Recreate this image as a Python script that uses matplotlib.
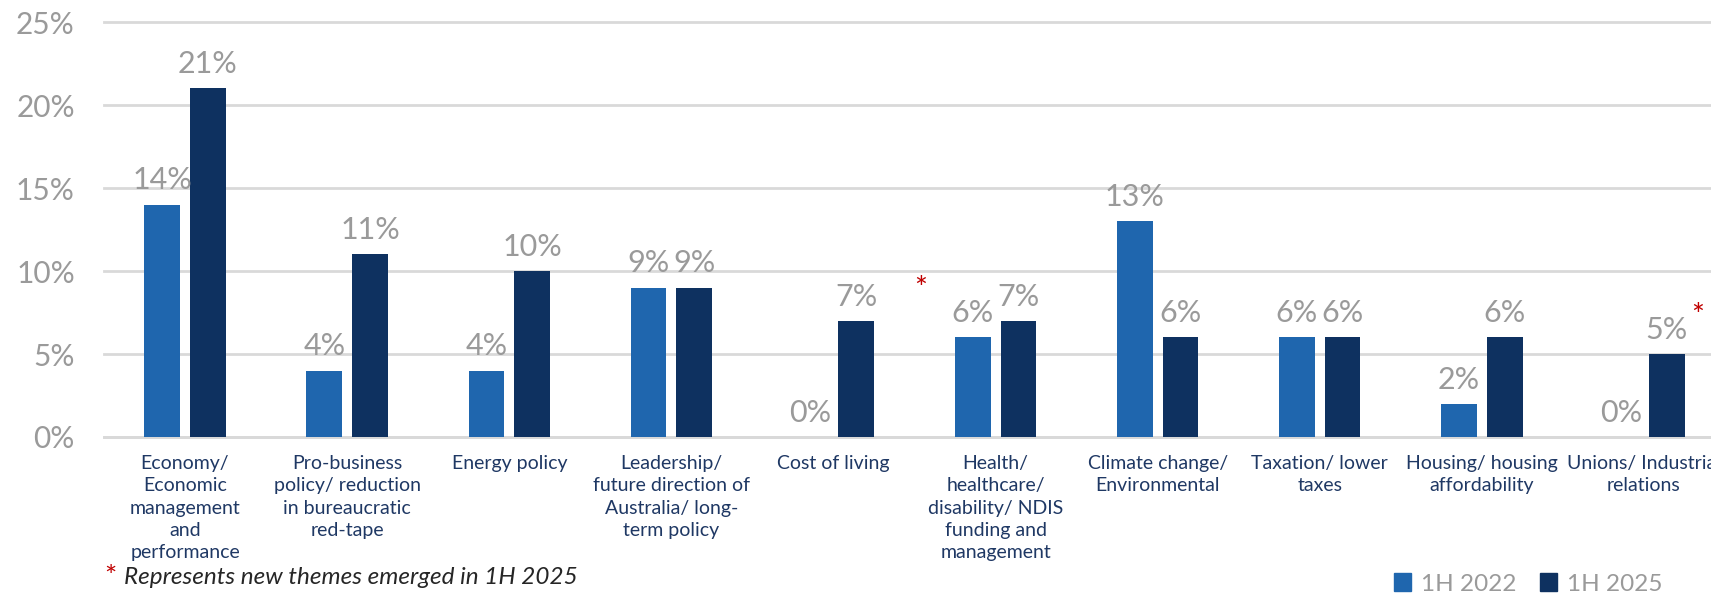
import matplotlib
matplotlib.use("Agg")
import matplotlib.pyplot as plt
from matplotlib.patches import Patch
import numpy as np

categories = [
    "Economy/\nEconomic\nmanagement\nand\nperformance",
    "Pro-business\npolicy/ reduction\nin bureaucratic\nred-tape",
    "Energy policy",
    "Leadership/\nfuture direction of\nAustralia/ long-\nterm policy",
    "Cost of living",
    "Health/\nhealthcare/\ndisability/ NDIS\nfunding and\nmanagement",
    "Climate change/\nEnvironmental",
    "Taxation/ lower\ntaxes",
    "Housing/ housing\naffordability",
    "Unions/ Industrial\nrelations",
]
values_2022 = [14, 4, 4, 9, 0, 6, 13, 6, 2, 0]
values_2025 = [21, 11, 10, 9, 7, 7, 6, 6, 6, 5]
series_labels = ["1H 2022", "1H 2025"]
yticks = [0, 5, 10, 15, 20, 25]
footnote = "Represents new themes emerged in 1H 2025"

C_LIGHT = "#1F66AE"
C_DARK = "#0E3160"
C_GRAY = "#9A9A9A"
C_NAVY = "#1F3864"
C_RED = "#C00000"
C_GRID = "#D9D9D9"

plt.rcParams['font.family'] = ['Lato', 'DejaVu Sans']

W, H = 1711, 596
fig = plt.figure(figsize=(W / 100, H / 100), dpi=100)
ax = fig.add_axes([104 / W, (H - 437) / H, 1621 / W, 415 / H])

x = np.arange(len(categories))
off = 0.141
bw = 0.22
b1 = ax.bar(x - off, values_2022, bw, color=C_LIGHT, zorder=3)
b2 = ax.bar(x + off, values_2025, bw, color=C_DARK, zorder=3)

for bars, vals in ((b1, values_2022), (b2, values_2025)):
    for rect, v in zip(bars, vals):
        ax.annotate(f"{v}%", (rect.get_x() + rect.get_width() / 2, v),
                    xytext=(0, 11), textcoords="offset points",
                    ha="center", va="baseline", fontsize=22, color=C_GRAY, zorder=4)

ax.set_xlim(-0.5, len(categories) - 0.5)
ax.set_ylim(0, 25)
ax.set_yticks(yticks)
ax.set_yticklabels([f"{t}%" for t in yticks])
ax.tick_params(axis="y", length=0, pad=21, labelsize=21.5, labelcolor=C_GRAY)
ax.set_xticks(x)
ax.set_xticklabels(categories, fontsize=14, color=C_NAVY, linespacing=1.38, va="top")
ax.tick_params(axis="x", length=0, pad=13)

for s in ("top", "right", "left"):
    ax.spines[s].set_visible(False)
ax.spines["bottom"].set_color(C_GRID)
ax.spines["bottom"].set_linewidth(2)
ax.yaxis.grid(True, color=C_GRID, linewidth=2)
for gl in ax.get_ygridlines():
    gl.set_clip_on(False)
ax.set_axisbelow(True)

# red asterisks marking new themes
ax.text(4.54, 8.4, "*", color=C_RED, fontsize=22, ha="center", va="baseline")
ax.text(9.33, 6.75, "*", color=C_RED, fontsize=22, ha="center", va="baseline")

# footnote
fig.text(104 / W, 1 - 586 / H, "*", color=C_RED, fontsize=21, ha="left", va="baseline")
fig.text(124 / W, 1 - 578 / H, footnote, color="#262626", fontsize=17.5, style="italic",
         ha="left", va="center")

handles = [Patch(color=C_LIGHT), Patch(color=C_DARK)]
fig.legend(handles, series_labels, loc="center left", bbox_to_anchor=(1372 / W, 1 - 584 / H),
           ncol=2, frameon=False, fontsize=17.5, labelcolor=C_GRAY,
           handlelength=0.7, handleheight=0.7, handletextpad=0.4, columnspacing=1.0)

fig.savefig("out.png", dpi=100)
